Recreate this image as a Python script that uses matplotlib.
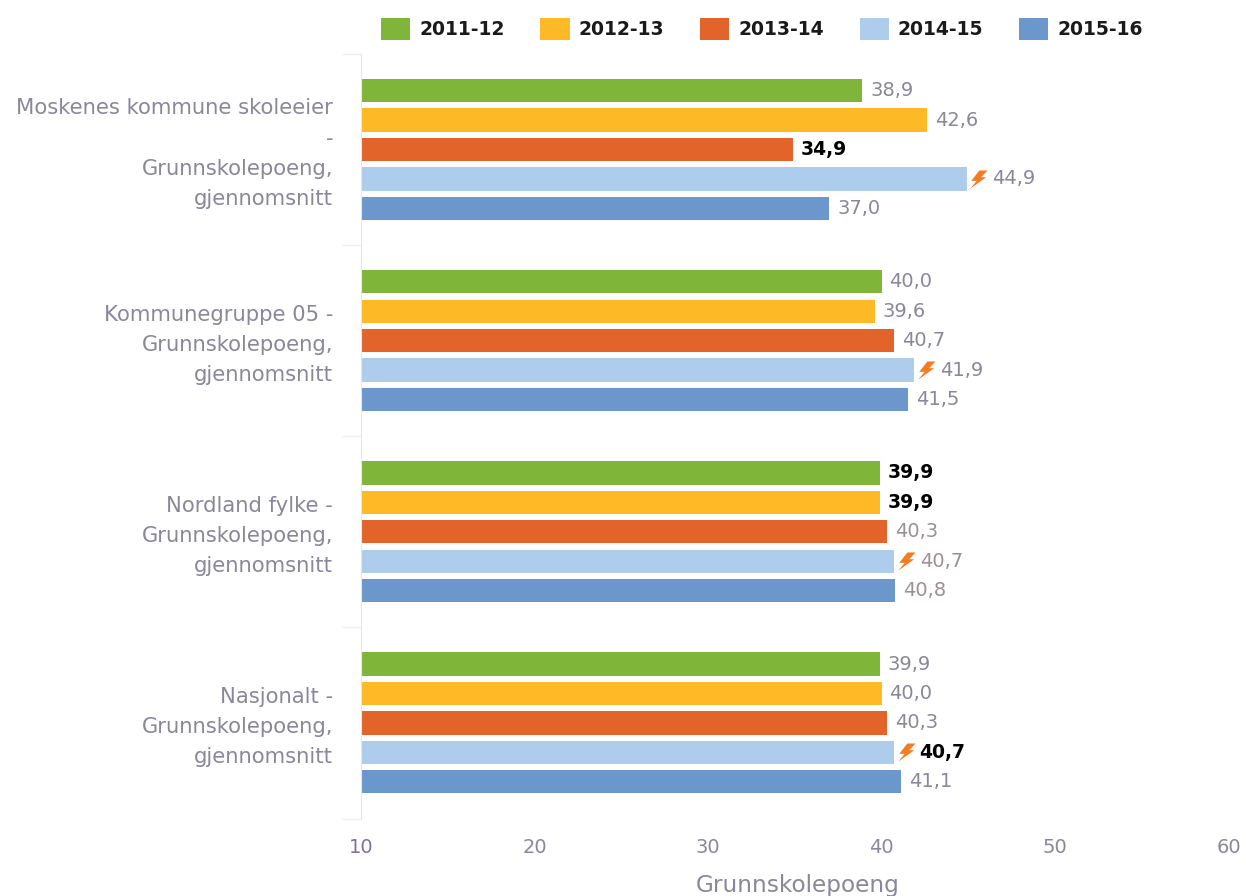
import matplotlib
matplotlib.use("Agg")
import matplotlib.pyplot as plt
from matplotlib.patches import Patch
from matplotlib.path import Path
from matplotlib.transforms import ScaledTranslation
import numpy as np

kategorier = [
    "Moskenes kommune skoleeier\n-\nGrunnskolepoeng,\ngjennomsnitt",
    "Kommunegruppe 05 -\nGrunnskolepoeng,\ngjennomsnitt",
    "Nordland fylke -\nGrunnskolepoeng,\ngjennomsnitt",
    "Nasjonalt -\nGrunnskolepoeng,\ngjennomsnitt",
]
aar = ["2011-12", "2012-13", "2013-14", "2014-15", "2015-16"]

v_2011 = [38.9, 40.0, 39.9, 39.9]
v_2012 = [42.6, 39.6, 39.9, 40.0]
v_2013 = [34.9, 40.7, 40.3, 40.3]
v_2014 = [44.9, 41.9, 40.7, 40.7]
v_2015 = [37.0, 41.5, 40.8, 41.1]
serier = [v_2011, v_2012, v_2013, v_2014, v_2015]

x_ticks = [10, 20, 30, 40, 50, 60]

# (kategori, serie) som har svart, fet verdi
fete = {(0, 2), (2, 0), (2, 1), (3, 3)}
# serien med lyn foran verdien
lyn_serie = 3

farger = ["#7fb63a", "#fdb926", "#e2642a", "#aecdec", "#6b97cc"]
GRA = "#8a879b"
BRUN = "#9c8f95"

# lynet som egen markoer
lyn = Path([(0.1, 1.0), (1.0, 1.0), (0.3, 0.25), (0.85, 0.25), (-0.9, -1.0),
            (-0.2, -0.15), (-0.8, -0.15), (0.1, 1.0)], closed=True)

W, H = 1246, 896
fig = plt.figure(figsize=(W / 100, H / 100), dpi=100)
ax = fig.add_axes([361 / W, 1 - 818.5 / H, (1228.5 - 361) / W, (818.5 - 54) / H])

# flytter lynet litt til hoeyre for stolpen
lyn_transform = ax.transData + ScaledTranslation(8.6 / 72, 0, fig.dpi_scale_trans)

y = np.arange(len(kategorier))
for i, verdier in enumerate(serier):
    pos = y + (i - 2) * 0.154
    ax.barh(pos, verdier, height=0.122, color=farger[i], linewidth=0)
    for k, v in enumerate(verdier):
        tekst = f"{v:.1f}".replace(".", ",")
        dx = 5.8
        if i == lyn_serie:
            ax.plot([v], [pos[k]], linestyle="none", marker=lyn, markersize=13,
                    color="#f47b20", markeredgewidth=0, transform=lyn_transform,
                    clip_on=False)
            dx = 18.7
        if (k, i) in fete:
            ax.annotate(tekst, (v, pos[k]), xytext=(dx, 0), textcoords="offset points",
                        va="center", ha="left", fontsize=13.5, color="black", fontweight="bold")
        else:
            farge = BRUN if k == 2 and i >= 2 else GRA
            ax.annotate(tekst, (v, pos[k]), xytext=(dx, 0), textcoords="offset points",
                        va="center", ha="left", fontsize=14, color=farge)

ax.set_xlim(10, 60)
ax.set_ylim(3.5, -0.5)

ax.set_xticks(x_ticks)
ax.tick_params(axis="x", length=0, pad=14, labelsize=14, labelcolor=GRA)
ax.get_xticklabels()[0].set_color("#7f6fa6")
ax.set_xlabel("Grunnskolepoeng", fontsize=16.7, color=GRA, labelpad=12, x=0.503)

ax.set_yticks(y)
ax.set_yticklabels(kategorier, fontsize=15.2, color=GRA, linespacing=1.63, ha="right")
ax.tick_params(axis="y", length=0, pad=20)
ax.set_yticks(np.arange(-0.5, len(kategorier)), minor=True)
ax.tick_params(axis="y", which="minor", length=14, color="#eeeef2", width=1)

# etikettene staar litt hoeyere enn midten av gruppen
for t in ax.get_yticklabels():
    t.set_transform(t.get_transform() + ScaledTranslation(0, 2.2 / 72, fig.dpi_scale_trans))

for s in ["top", "right", "bottom"]:
    ax.spines[s].set_visible(False)
ax.spines["left"].set_color("#e6e6ee")

handles = [Patch(facecolor=f, edgecolor="none", label=a) for f, a in zip(farger, aar)]
fig.legend(handles=handles, ncol=5, loc="center", bbox_to_anchor=(762 / W, 1 - 29 / H),
           frameon=False, prop={"size": 13.5, "weight": "bold"}, handlelength=1.55,
           handleheight=1.35, handletextpad=0.48, columnspacing=1.92, labelcolor="#1a1a1a")

fig.savefig("out.png", dpi=100)
